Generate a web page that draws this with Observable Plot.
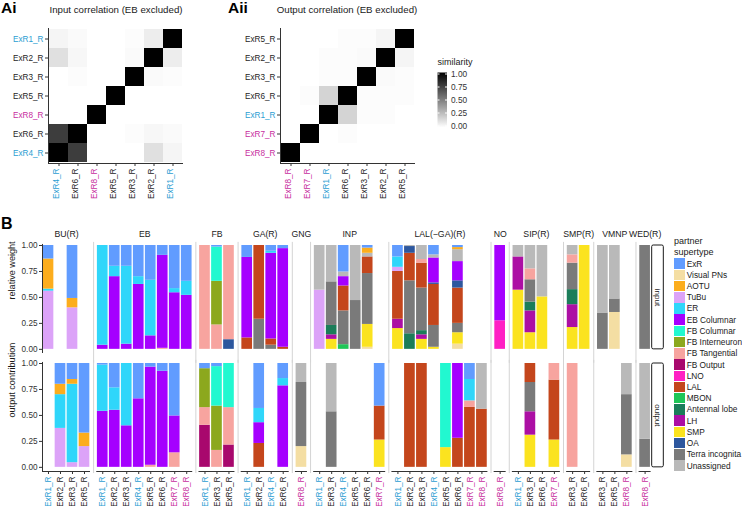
<!DOCTYPE html>
<html><head><meta charset="utf-8">
<script src="https://cdn.jsdelivr.net/npm/d3@7"></script>
<script src="https://cdn.jsdelivr.net/npm/@observablehq/plot@0.6"></script>
<style>
body{margin:0;background:#fff;}
#root{position:relative;width:742px;height:506px;overflow:hidden;font-family:"Liberation Sans",Arial,sans-serif;color:#1a1a1a;background:#fff;}
.abs{position:absolute;line-height:1;white-space:nowrap;}
.bold{font-weight:bold;font-size:15.5px;color:#000;}
.ttl{font-size:9.7px;text-align:center;width:240px;}
.leg{position:absolute;left:674px;top:236px;font-size:8.3px;width:90px;white-space:nowrap;}
.leg .t{font-size:9px;height:11px;line-height:11px;}
.leg .row{height:11.22px;display:flex;align-items:center;white-space:nowrap;}
.leg .row span{white-space:nowrap;}
.leg .sw{flex:none;width:10.5px;height:10.5px;margin-right:2.2px;}
</style></head><body><div id="root"></div>
<script>
// ---------------- data ----------------
const supertypes = ["ExR","Visual PNs","AOTU","TuBu","ER","EB Columnar","FB Columnar","FB Interneuron","FB Tangential","FB Output","LNO","LAL","MBON","Antennal lobe","LH","SMP","OA","Terra incognita","Unassigned"];
const supertypeColors = ["#619CFF","#F4DEA3","#FCAD1D","#DCA3F8","#2FD6FA","#A500FF","#22F8D0","#8CA81E","#F7A49F","#A8086D","#FF20C4","#C4461C","#1FC657","#1B7D59","#AC0FA4","#FBE31F","#2D579E","#7A7A7A","#B9B9B9"];

const blueNeurons = ["ExR1_R","ExR4_R"];
const magentaNeurons = ["ExR7_R","ExR8_R"];

// similarity matrices (symmetric), rows/cols in the listed order
const inOrder = ["ExR4_R","ExR6_R","ExR8_R","ExR5_R","ExR3_R","ExR2_R","ExR1_R"];
const inSim = [
  [1.00,0.76,0.00,0.00,0.00,0.12,0.04],
  [0.76,1.00,0.00,0.00,0.01,0.03,0.02],
  [0.00,0.00,1.00,0.00,0.00,0.00,0.00],
  [0.00,0.00,0.00,1.00,0.00,0.00,0.00],
  [0.00,0.01,0.00,0.00,1.00,0.02,0.01],
  [0.12,0.03,0.00,0.00,0.02,1.00,0.07],
  [0.04,0.02,0.00,0.00,0.01,0.07,1.00]
];
const outOrder = ["ExR8_R","ExR7_R","ExR1_R","ExR6_R","ExR3_R","ExR2_R","ExR5_R"];
const outSim = [
  [1.00,0.00,0.00,0.00,0.00,0.00,0.00],
  [0.00,1.00,0.00,0.01,0.00,0.00,0.00],
  [0.00,0.00,1.00,0.17,0.01,0.01,0.00],
  [0.00,0.01,0.17,1.00,0.01,0.01,0.01],
  [0.00,0.00,0.01,0.01,1.00,0.02,0.01],
  [0.00,0.00,0.01,0.01,0.02,1.00,0.04],
  [0.00,0.00,0.00,0.01,0.01,0.04,1.00]
];
const simTicks = [0, 0.25, 0.5, 0.75, 1];

// panel B
const regions = ["BU(R)","EB","FB","GA(R)","GNG","INP","LAL(−GA)(R)","NO","SIP(R)","SMP(R)","VMNP","WED(R)"];
const regionNeurons = [
  ["ExR1_R","ExR2_R","ExR3_R","ExR5_R"],
  ["ExR1_R","ExR2_R","ExR3_R","ExR4_R","ExR5_R","ExR6_R","ExR7_R","ExR8_R"],
  ["ExR1_R","ExR3_R","ExR5_R"],
  ["ExR1_R","ExR2_R","ExR4_R","ExR6_R"],
  ["ExR8_R"],
  ["ExR1_R","ExR3_R","ExR4_R","ExR5_R","ExR6_R","ExR7_R"],
  ["ExR1_R","ExR2_R","ExR3_R","ExR4_R","ExR5_R","ExR6_R","ExR7_R","ExR8_R"],
  ["ExR8_R"],
  ["ExR1_R","ExR3_R","ExR6_R","ExR7_R"],
  ["ExR3_R","ExR6_R"],
  ["ExR3_R","ExR5_R","ExR8_R"],
  ["ExR8_R"]
];
const yTicks = [0, 0.25, 0.5, 0.75, 1];
const rowTitles = [["input","relative weight"],["output","output contribution"]];

// [region, neuron, segments bottom -> top as [supertype, fraction]]
const inputBars = [
  ["BU(R)","ExR1_R",[["TuBu",.56],["ER",.02],["AOTU",.29],["ExR",.13]]],
  ["BU(R)","ExR3_R",[["TuBu",.40],["AOTU",.09],["ExR",.51]]],
  ["EB","ExR1_R",[["EB Columnar",.04],["ER",.96]]],
  ["EB","ExR2_R",[["EB Columnar",.70],["ER",.10],["ExR",.20]]],
  ["EB","ExR3_R",[["EB Columnar",.05],["ER",.75],["ExR",.20]]],
  ["EB","ExR4_R",[["EB Columnar",.625],["ER",.075],["ExR",.30]]],
  ["EB","ExR5_R",[["EB Columnar",.13],["ER",.535],["ExR",.335]]],
  ["EB","ExR6_R",[["FB Tangential",.01],["EB Columnar",.895],["ExR",.095]]],
  ["EB","ExR7_R",[["EB Columnar",.545],["ER",.04],["ExR",.415]]],
  ["EB","ExR8_R",[["EB Columnar",.52],["ER",.135],["ExR",.345]]],
  ["FB","ExR1_R",[["FB Tangential",1]]],
  ["FB","ExR3_R",[["FB Tangential",.235],["FB Interneuron",.42],["FB Columnar",.33],["ExR",.015]]],
  ["FB","ExR5_R",[["OA",.093],["FB Tangential",.907]]],
  ["GA(R)","ExR1_R",[["LAL",.11],["EB Columnar",.775],["ExR",.115]]],
  ["GA(R)","ExR2_R",[["Terra incognita",.29],["LAL",.71]]],
  ["GA(R)","ExR4_R",[["Terra incognita",.04],["LAL",.06],["EB Columnar",.825],["ER",.02],["ExR",.055]]],
  ["GA(R)","ExR6_R",[["LAL",.02],["EB Columnar",.95],["ExR",.03]]],
  ["INP","ExR1_R",[["TuBu",.57],["Unassigned",.43]]],
  ["INP","ExR3_R",[["SMP",.096],["LH",.044],["Antennal lobe",.09],["Terra incognita",.42],["Unassigned",.35]]],
  ["INP","ExR4_R",[["MBON",.045],["Terra incognita",.325],["LAL",.24],["EB Columnar",.09],["Unassigned",.045],["ExR",.255]]],
  ["INP","ExR5_R",[["Terra incognita",.47],["Unassigned",.53]]],
  ["INP","ExR6_R",[["Visual PNs",.02],["SMP",.22],["Terra incognita",.49],["LAL",.16],["Unassigned",.035],["AOTU",.05],["ExR",.025]]],
  ["LAL(−GA)(R)","ExR1_R",[["SMP",.20],["LH",.09],["LAL",.46],["TuBu",.04],["ER",.10],["ExR",.11]]],
  ["LAL(−GA)(R)","ExR2_R",[["Antennal lobe",.15],["Terra incognita",.51],["LAL",.265],["OA",.065],["Unassigned",.01]]],
  ["LAL(−GA)(R)","ExR3_R",[["SMP",.096],["LH",.044],["Antennal lobe",.04],["Terra incognita",.41],["LAL",.24],["FB Tangential",.035],["Unassigned",.135]]],
  ["LAL(−GA)(R)","ExR4_R",[["SMP",.02],["Terra incognita",.21],["LAL",.395],["OA",.015],["EB Columnar",.24],["Unassigned",.03],["ExR",.09]]],
  ["LAL(−GA)(R)","ExR6_R",[["Visual PNs",.05],["SMP",.11],["Terra incognita",.09],["LAL",.34],["OA",.07],["EB Columnar",.185],["Unassigned",.115],["AOTU",.02],["ExR",.02]]],
  ["NO","ExR8_R",[["LNO",.275],["EB Columnar",.725]]],
  ["SIP(R)","ExR1_R",[["SMP",.57],["LH",.32],["Unassigned",.11]]],
  ["SIP(R)","ExR3_R",[["SMP",.16],["LH",.21],["Antennal lobe",.085],["Terra incognita",.215],["FB Tangential",.105],["Unassigned",.225]]],
  ["SIP(R)","ExR6_R",[["SMP",.505],["Unassigned",.495]]],
  ["SMP(R)","ExR3_R",[["SMP",.21],["LH",.22],["Antennal lobe",.145],["Terra incognita",.255],["FB Tangential",.08],["Unassigned",.09]]],
  ["SMP(R)","ExR6_R",[["SMP",1]]],
  ["VMNP","ExR3_R",[["Terra incognita",.35],["Unassigned",.65]]],
  ["VMNP","ExR5_R",[["Visual PNs",.355],["Terra incognita",.13],["Unassigned",.515]]],
  ["WED(R)","ExR8_R",[["Terra incognita",1]]]
];
const outputBars = [
  ["BU(R)","ExR2_R",[["TuBu",.375],["ER",.325],["AOTU",.10],["ExR",.20]]],
  ["BU(R)","ExR3_R",[["TuBu",.045],["ER",.755],["AOTU",.046],["ExR",.154]]],
  ["BU(R)","ExR5_R",[["TuBu",.20],["AOTU",.13],["ExR",.67]]],
  ["EB","ExR1_R",[["EB Columnar",.54],["ER",.445],["ExR",.015]]],
  ["EB","ExR2_R",[["EB Columnar",.55],["ER",.216],["ExR",.234]]],
  ["EB","ExR3_R",[["EB Columnar",.40],["ER",.60]]],
  ["EB","ExR4_R",[["EB Columnar",.66],["ExR",.34]]],
  ["EB","ExR5_R",[["FB Tangential",.02],["EB Columnar",.945],["ExR",.035]]],
  ["EB","ExR6_R",[["EB Columnar",.925],["ExR",.075]]],
  ["EB","ExR7_R",[["FB Tangential",.14],["EB Columnar",.355],["ExR",.505]]],
  ["FB","ExR1_R",[["FB Output",.405],["FB Tangential",.17],["FB Interneuron",.375],["ExR",.05]]],
  ["FB","ExR3_R",[["FB Tangential",.163],["FB Interneuron",.427],["FB Columnar",.38],["ExR",.03]]],
  ["FB","ExR5_R",[["FB Output",.215],["FB Tangential",.36],["FB Columnar",.425]]],
  ["GA(R)","ExR2_R",[["LAL",.23],["EB Columnar",.20],["ER",.137],["ExR",.433]]],
  ["GA(R)","ExR6_R",[["EB Columnar",.785],["ER",.07],["ExR",.145]]],
  ["GNG","ExR8_R",[["Visual PNs",.20],["Terra incognita",.617],["Unassigned",.183]]],
  ["INP","ExR3_R",[["Terra incognita",.535],["Unassigned",.465]]],
  ["INP","ExR7_R",[["SMP",.263],["LAL",.327],["ExR",.41]]],
  ["LAL(−GA)(R)","ExR2_R",[["LAL",1]]],
  ["LAL(−GA)(R)","ExR3_R",[["LAL",1]]],
  ["LAL(−GA)(R)","ExR5_R",[["SMP",.19],["FB Columnar",.81]]],
  ["LAL(−GA)(R)","ExR6_R",[["LAL",.28],["EB Columnar",.72]]],
  ["LAL(−GA)(R)","ExR7_R",[["LAL",.577],["FB Tangential",.063],["ER",.206],["ExR",.154]]],
  ["LAL(−GA)(R)","ExR8_R",[["LAL",.56],["Unassigned",.44]]],
  ["SIP(R)","ExR3_R",[["SMP",.31],["LH",.225],["Terra incognita",.282],["LAL",.183]]],
  ["SIP(R)","ExR7_R",[["SMP",.263],["LAL",.577],["FB Tangential",.16]]],
  ["SMP(R)","ExR3_R",[["FB Tangential",1]]],
  ["VMNP","ExR8_R",[["Visual PNs",.12],["Terra incognita",.58],["Unassigned",.30]]],
  ["WED(R)","ExR8_R",[["Terra incognita",.27],["Unassigned",.73]]]
];

// ---------------- helpers ----------------
const FONT = '"Liberation Sans", Arial, sans-serif';
const BLUE = "#2B9ED2", MAGENTA = "#C72E9E", DARK = "#262626";
const labelColor = n => blueNeurons.includes(n) ? BLUE : magentaNeurons.includes(n) ? MAGENTA : DARK;
const typeColor = new Map(supertypes.map((s, i) => [s, supertypeColors[i]]));
const root = document.getElementById("root");
function place(node, left, top) { node.style.position = "absolute"; node.style.left = left + "px"; node.style.top = top + "px"; root.appendChild(node); return node; }
function div(html, cls, left, top, extra) { const d = document.createElement("div"); d.className = "abs " + (cls || ""); d.innerHTML = html; if (extra) Object.assign(d.style, extra); return place(d, left, top); }

// ---------------- heatmaps ----------------
function heatmap(order, sim) {
  const cells = [];
  order.forEach((r, i) => order.forEach((c, j) => cells.push({row: r, col: c, value: sim[i][j]})));
  const marks = [
    Plot.cell(cells, {x: "col", y: "row", fill: "value"}),
    Plot.frame({anchor: "left", stroke: "#333"}),
    Plot.frame({anchor: "bottom", stroke: "#333"}),
    Plot.axisX({tickSize: 3, tickFormat: () => "", label: null, color: "#333"}),
    Plot.axisY({tickSize: 3, tickFormat: () => "", label: null, color: "#333"})
  ];
  for (const col of [DARK, BLUE, MAGENTA]) {
    const ns = order.filter(n => labelColor(n) === col);
    marks.push(Plot.text(ns, {x: d => d, frameAnchor: "bottom", dy: 5, rotate: -90, textAnchor: "end", fill: col, fontSize: 8.2}));
    marks.push(Plot.text(ns, {y: d => d, frameAnchor: "left", dx: -5, textAnchor: "end", fill: col, fontSize: 8.2}));
  }
  return Plot.plot({
    width: 200, height: 200, marginLeft: 48, marginRight: 18, marginTop: 28, marginBottom: 37,
    x: {domain: order, padding: 0, label: null},
    y: {domain: [...order].reverse(), padding: 0, label: null},
    color: {type: "linear", domain: [0, 1], range: ["#ffffff", "#000000"]},
    style: {fontFamily: FONT, background: "transparent", overflow: "visible"},
    marks
  });
}
place(heatmap(inOrder, inSim), 0, 0);
place(heatmap(outOrder, outSim), 232, 0);
div("Ai", "bold", 1, 0);
div("Aii", "bold", 228, 0);
div("Input correlation (EB excluded)", "ttl", 116 - 120, 5.4);
div("Output correlation (EB excluded)", "ttl", 347 - 120, 5.4);

// similarity colourbar legend
(function () {
  const W = 60, H = 80, ox = 430, oy = 55;
  const svg = d3.create("svg").attr("width", W).attr("height", H).style("font-family", FONT).style("overflow", "visible");
  const g = svg.append("defs").append("linearGradient").attr("id", "simgrad").attr("x1", 0).attr("y1", 1).attr("x2", 0).attr("y2", 0);
  g.append("stop").attr("offset", "0%").attr("stop-color", "#ffffff");
  g.append("stop").attr("offset", "100%").attr("stop-color", "#000000");
  const yS = d3.scaleLinear().domain([0, 1]).range([71, 19]);
  svg.append("text").attr("x", 7.5).attr("y", 10).attr("font-size", 9).attr("fill", "#1a1a1a").text("similarity");
  svg.append("rect").attr("x", 7.5).attr("y", yS(1) - 1.5).attr("width", 9.5).attr("height", yS(0) - yS(1) + 3).attr("fill", "url(#simgrad)");
  for (const t of simTicks) {
    svg.append("line").attr("x1", 7.5).attr("x2", 9.5).attr("y1", yS(t)).attr("y2", yS(t)).attr("stroke", "#fff");
    svg.append("line").attr("x1", 15).attr("x2", 17).attr("y1", yS(t)).attr("y2", yS(t)).attr("stroke", "#fff");
    svg.append("text").attr("x", 21).attr("y", yS(t)).attr("dy", "0.35em").attr("font-size", 8.3).attr("fill", "#333").text(t.toFixed(2));
  }
  place(svg.node(), ox, oy);
})();

// ---------------- panel B ----------------
const GAP = 0.52;
let start = 0;
const colX = new Map();
const panels = [];
const cols = [];
regions.forEach((r, i) => {
  const ns = regionNeurons[i];
  ns.forEach((n, j) => { colX.set(r + "|" + n, start + j + 0.5); cols.push({region: r, neuron: n, x: start + j + 0.5}); });
  panels.push({region: r, x1: start, x2: start + ns.length});
  start += ns.length + GAP;
});
const total = start - GAP;

const segs = [];
for (const [dir, bars] of [["input", inputBars], ["output", outputBars]]) {
  for (const [region, neuron, parts] of bars) {
    let acc = 0;
    for (const [type, v] of parts) {
      segs.push({dir, region, neuron, type, y1: acc, y2: acc + v, x: colX.get(region + "|" + neuron)});
      acc += v;
    }
  }
}
const seps = [];
for (const dir of ["input", "output"]) for (const p of panels.slice(1)) seps.push({dir, x: p.x1 - GAP / 2, y1: dir === "input" ? -0.135 : -0.06, y2: 1.03});
const strips = [{dir: "input"}, {dir: "output"}];
const titles = rowTitles.map(([dir, label]) => ({dir, label}));

const bMarks = [
  Plot.ruleX(seps, {x: "x", y1: "y1", y2: "y2", fy: "dir", stroke: "#d4d4d4", strokeWidth: 1}),
  Plot.rect(segs, {x1: d => d.x - 0.445, x2: d => d.x + 0.445, y1: "y1", y2: "y2", fy: "dir", fill: d => typeColor.get(d.type)}),
  Plot.ruleX([0], {y1: -0.04, y2: 1.01, stroke: "#333"}),
  Plot.axisY({ticks: yTicks, tickFormat: d3.format(".2f"), tickSize: 3, tickPadding: 2, fontSize: 8.2, label: null, color: "#333"}),
  Plot.axisX(cols.map(c => c.x), {tickSize: 3, tickFormat: () => "", label: null, color: "#333"}),
  Plot.ruleY(panels, {x1: "x1", x2: "x2", y: -0.04, fy: () => "output", stroke: "#333"}),
  Plot.text(panels, {x: d => (d.x1 + d.x2) / 2, y: 1, dy: -11, text: "region", fy: () => "input", fontSize: 8.7, fill: "#1a1a1a"}),
  Plot.text(titles, {fy: "dir", text: "label", frameAnchor: "left", rotate: -90, dx: -30, fontSize: 9.1, fill: "#1a1a1a"}),
  Plot.rect(strips, {x1: total + 0.09, x2: total + 1.06, y1: 0, y2: 1, fy: "dir", fill: "white", stroke: "#1a1a1a", strokeWidth: 1, rx: 1.5}),
  Plot.text(strips, {x: total + 0.575, y: 0.5, text: "dir", rotate: 90, fy: "dir", fontSize: 8, fill: "#1a1a1a"})
];
for (const col of [DARK, BLUE, MAGENTA]) {
  bMarks.push(Plot.text(cols.filter(c => labelColor(c.neuron) === col), {x: "x", y: -0.04, fy: () => "output", text: "neuron", rotate: -90, textAnchor: "end", dy: 5, fill: col, fontSize: 8.2}));
}
const plotB = Plot.plot({
  width: 668, height: 284, marginLeft: 42, marginRight: 17.4, marginTop: 23, marginBottom: 34.8,
  x: {domain: [0, total], label: null},
  y: {domain: [-0.04, 1], label: null},
  fy: {domain: ["input", "output"], paddingInner: 0.0834, paddingOuter: 0, axis: null, label: null},
  color: {type: "identity"},
  style: {fontFamily: FONT, background: "transparent", overflow: "visible"},
  marks: bMarks
});
place(plotB, 0, 222);
div("B", "bold", 1, 216, {fontSize: "16px"});

// partner supertype legend
(function () {
  const d = document.createElement("div");
  d.className = "leg";
  let html = '<div class="t">partner</div><div class="t">supertype</div>';
  supertypes.forEach((s, i) => { html += `<div class="row"><div class="sw" style="background:${supertypeColors[i]}"></div><span>${s}</span></div>`; });
  d.innerHTML = html;
  root.appendChild(d);
})();
</script></body></html>
